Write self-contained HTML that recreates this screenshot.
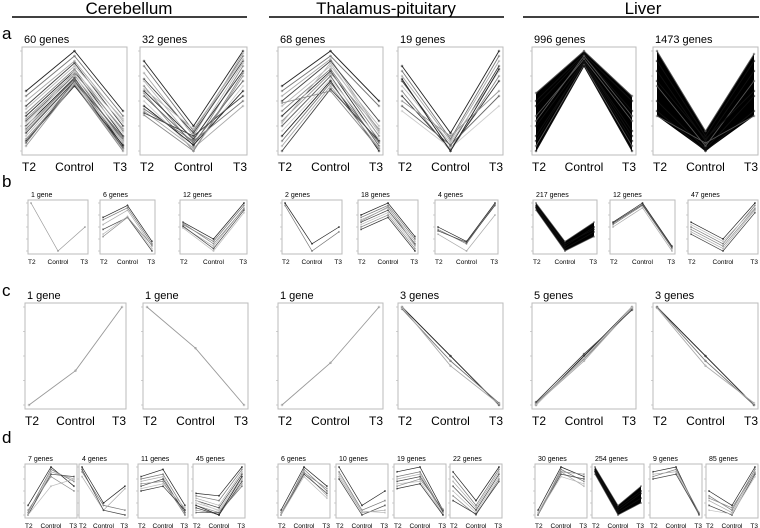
<!DOCTYPE html>
<html><head><meta charset="utf-8"><style>
body{margin:0;background:#fff}
svg{display:block;font-family:"Liberation Sans",sans-serif}
</style></head><body>
<svg id="fig" width="760" height="528" viewBox="0 0 760 528" xmlns="http://www.w3.org/2000/svg">
<g><text x="129" y="14" font-size="17" text-anchor="middle">Cerebellum</text><line x1="12" y1="17" x2="247" y2="17" stroke="#000" stroke-width="1.5"/></g>
<g><text x="386" y="14" font-size="17" text-anchor="middle">Thalamus-pituitary</text><line x1="269" y1="17" x2="504" y2="17" stroke="#000" stroke-width="1.5"/></g>
<g><text x="643" y="14" font-size="17" text-anchor="middle">Liver</text><line x1="523" y1="17" x2="759" y2="17" stroke="#000" stroke-width="1.5"/></g>
<text x="2" y="39" font-size="17">a</text>
<text x="2" y="187" font-size="17">b</text>
<text x="2" y="296" font-size="17">c</text>
<text x="2" y="443" font-size="17">d</text>
</svg>
<script>
const categories = ["T2","Control","T3"];
const a1 = [[0.6,1,0.4],[0.55,0.95,0.35],[0.5,0.9,0.3],[0.45,0.88,0.25],[0.42,0.85,0.32],[0.38,0.82,0.2],[0.35,0.8,0.15],[0.32,0.78,0.22],[0.3,0.76,0.1],[0.28,0.75,0.18],[0.25,0.73,0.05],[0.22,0.72,0.12],[0.2,0.7,0.08],[0.18,0.7,0.03],[0.15,0.68,0.1],[0.12,0.66,0.0],[0.1,0.65,0.06],[0.05,0.67,0.02],[0.08,0.7,0.14],[0.24,0.8,0.28]];
const a2 = [[0.9,0.25,1],[0.85,0.2,0.95],[0.78,0.15,0.98],[0.72,0.18,0.9],[0.7,0.1,0.88],[0.65,0.05,0.85],[0.6,0.12,0.8],[0.58,0.0,0.75],[0.55,0.08,0.7],[0.5,0.02,0.65],[0.45,0.06,0.6],[0.42,0.1,0.5],[0.4,0.03,0.45],[0.38,0.15,0.55],[0.62,0.22,0.92],[0.36,0.0,0.78]];
const a3 = [[0.65,1,0.5],[0.6,0.95,0.45],[0.55,0.92,0.2],[0.5,0.9,0.3],[0.45,0.85,0.25],[0.4,0.82,0.15],[0.35,0.8,0.1],[0.3,0.78,0.22],[0.25,0.75,0.05],[0.2,0.72,0.12],[0.15,0.7,0.0],[0.1,0.68,0.08],[0.05,0.65,0.03],[0.0,0.62,0.1],[0.28,0.88,0.18],[0.48,0.6,0.02]];
const a4 = [[0.85,0.18,1],[0.8,0.12,0.95],[0.75,0.1,0.9],[0.7,0.05,0.85],[0.65,0.08,0.8],[0.6,0.0,0.75],[0.55,0.02,0.7],[0.5,0.15,0.6],[0.45,0.06,0.55],[0.4,0.03,0.45],[0.72,0.0,0.82]];
const a5 = [[0.58,1,0.55],[0.5,0.97,0.5],[0.45,0.95,0.4],[0.35,0.92,0.3],[0.25,0.9,0.2],[0.15,0.88,0.1],[0.05,0.86,0.05],[0.0,0.85,0.0],[0.1,0.9,0.15],[0.3,0.95,0.35]];
const a6 = [[1,0.2,0.97],[0.9,0.15,0.9],[0.8,0.1,0.8],[0.65,0.05,0.7],[0.5,0.02,0.55],[0.4,0.0,0.4],[0.35,0.08,0.35],[0.7,0.12,0.6]];
const b1 = [[1,0,0.5]];
const b2 = [[0.7,0.95,0.2],[0.65,0.9,0.15],[0.55,0.85,0.1],[0.45,0.7,0.0],[0.35,0.72,0.05],[0.3,0.7,0.12]];
const b3 = [[0.6,0.25,1],[0.55,0.2,0.95],[0.5,0.1,0.9],[0.52,0.05,0.85],[0.48,0.0,0.8],[0.58,0.15,0.88]];
const b4 = [[1,0.15,0.5],[0.95,0.0,0.4]];
const b5 = [[0.75,1,0.3],[0.7,0.95,0.25],[0.65,0.9,0.2],[0.6,0.85,0.15],[0.55,0.8,0.1],[0.5,0.75,0.05],[0.45,0.7,0.0],[0.62,0.92,0.12]];
const b6 = [[0.5,0.2,1],[0.45,0.15,0.98],[0.35,0.0,0.75],[0.42,0.18,0.95]];
const b7 = [[1,0.2,0.6],[0.95,0.1,0.5],[0.9,0.05,0.4],[0.85,0.0,0.3],[0.92,0.15,0.45]];
const b8 = [[0.6,1,0.1],[0.55,0.95,0.05],[0.5,0.9,0.0],[0.58,0.97,0.08]];
const b9 = [[0.6,0.25,1],[0.5,0.15,0.95],[0.4,0.05,0.85],[0.35,0.0,0.8],[0.55,0.2,0.9],[0.45,0.1,0.88]];
const c1 = [[0,0.35,1]];
const c2 = [[1,0.58,0]];
const c3 = [[0,0.43,1]];
const c4 = [[1,0.5,0],[0.98,0.45,0.02],[1,0.4,0.01]];
const c5 = [[0,0.5,1],[0.02,0.47,0.98],[0.01,0.45,0.99],[0.03,0.52,0.97],[0,0.48,1]];
const c6 = [[1,0.5,0],[1,0.45,0.0],[0.99,0.4,0.02]];
const d1 = [[0.2,1,0.6],[0.05,0.95,0.7],[0,0.9,0.75],[0,0.85,0.8],[0,0.6,0.75],[0.1,0.8,0.5]];
const d2 = [[1,0.25,0.6],[0.9,0.2,0.1],[0.8,0.1,0.55],[0.95,0.1,0.0]];
const d3 = [[0.8,0.95,0.2],[0.75,0.85,0.1],[0.7,0.8,0.0],[0.6,0.75,0.05],[0.55,0.65,0.15],[0.65,0.7,0.0],[0.5,0.6,0.1]];
const d4 = [[0.45,0.4,1],[0.4,0.3,0.95],[0.35,0.2,0.9],[0.3,0.15,0.85],[0.25,0.1,0.8],[0.2,0.05,0.75],[0.15,0.0,0.7],[0.1,0.02,0.65],[0.05,0.05,0.6],[0.3,0.08,0.75],[0.2,0.0,0.8]];
const d5 = [[0.1,1,0.6],[0,0.95,0.5],[0,0.9,0.4],[0,0.85,0.45],[0,0.8,0.35],[0.05,0.88,0.55]];
const d6 = [[1,0.2,0.5],[0.9,0.1,0.3],[0.8,0.05,0.1],[0.75,0.0,0.2],[0.85,0.08,0.05]];
const d7 = [[0.9,1,0.1],[0.8,0.9,0.05],[0.75,0.85,0.0],[0.7,0.8,0.08],[0.65,0.7,0.02],[0.6,0.75,0.12],[0.55,0.65,0.0]];
const d8 = [[0.9,0.3,1],[0.8,0.2,0.95],[0.7,0.15,0.9],[0.6,0.1,0.85],[0.5,0.05,0.8],[0.4,0.0,0.75],[0.3,0.02,0.7]];
const d9 = [[0.1,1,0.8],[0,0.95,0.7],[0.05,0.9,0.6],[0,0.85,0.75],[0.02,0.8,0.65],[0,0.9,0.85]];
const d10 = [[1,0.2,0.6],[0.95,0.1,0.45],[0.9,0.05,0.35],[0.85,0.0,0.25],[0.92,0.15,0.5]];
const d11 = [[0.9,1,0.0],[0.8,0.95,0.05],[0.85,0.9,0.0],[0.75,0.85,0.02]];
const d12 = [[0.5,0.2,1],[0.4,0.1,0.95],[0.3,0.05,0.9],[0.2,0.0,0.85],[0.1,0.02,0.8],[0.35,0.15,0.88]];
const titlesA = ["60 genes","32 genes","68 genes","19 genes","996 genes","1473 genes"];
const titlesB = ["1 gene","6 genes","12 genes","2 genes","18 genes","4 genes","217 genes","12 genes","47 genes"];
const titlesC = ["1 gene","1 gene","1 gene","3 genes","5 genes","3 genes"];
const titlesD = ["7 genes","4 genes","11 genes","45 genes","6 genes","10 genes","19 genes","22 genes","30 genes","254 genes","9 genes","85 genes"];

const NS="http://www.w3.org/2000/svg";
const svg=document.getElementById('fig');
const grays=["#222","#777","#aaa","#444","#bbb","#888","#333","#999","#666","#ccc"];
function mk(tag,attrs,parent){const e=document.createElementNS(NS,tag);for(const k in attrs)e.setAttribute(k,attrs[k]);parent.appendChild(e);return e;}
function panel(name,x0,x1,y0,y1,title,data,big,dense){
  const g=mk('g',{},svg);
  
  
  const box=mk('rect',{x:x0,y:y0,width:x1-x0,height:y1-y0,fill:'none',stroke:'#bbb','stroke-width':1},g);
  
  
  const pad=big?4:3;
  const xs=i=>x0+pad+i*(x1-x0-2*pad)/(categories.length-1);
  const ys=v=>y1-pad-v*(y1-y0-2*pad);
  for(let t=0;t<5;t++){const yy=y1-pad-t*(y1-y0-2*pad)/4;mk('line',{x1:x0-2,x2:x0,y1:yy,y2:yy,stroke:'#bbb','stroke-width':0.7},g);}
  if(dense){
    const mx=categories.map((c,i)=>Math.max(...data.map(r=>r[i])));
    const mn=categories.map((c,i)=>Math.min(...data.map(r=>r[i])));
    const pts=mx.map((v,i)=>xs(i)+','+ys(v)).concat(mn.map((v,i)=>[i,v]).reverse().map(p=>xs(p[0])+','+ys(p[1])));
    const poly=mk('polygon',{points:pts.join(' '),fill:'#000'},g);
    
    
  }
  data.forEach((r,j)=>{
    const col=dense?(j%3==0?'#555':'#111'):(data.length==1?'#999':grays[j%grays.length]);
    const pl=mk('polyline',{points:r.map((v,i)=>xs(i)+','+ys(v)).join(' '),fill:'none',stroke:col,'stroke-width':big?0.9:0.7},g);
    
    
    r.forEach((v,i)=>{const c=mk('circle',{cx:xs(i),cy:ys(v),r:big?1:0.7,fill:'none',stroke:col,'stroke-width':0.5},g);
      
      });
  });
  const ts=big?11:7;
  const tt=mk('text',{x:x0+(big?2:3),y:y0-(big?4:3),'font-size':ts},g);tt.textContent=title;
  
  
  const ls=big?12:6.5, ly=big?(y1+16):(y1+10);
  categories.forEach((c,i)=>{
    const anchor=i==0?'start':(i==2?'end':'middle');
    const xx=i==0?x0:(i==2?x1:(x0+x1)/2);
    const t=mk('text',{x:xx,y:ly,'font-size':ls,'text-anchor':anchor},g);t.textContent=c;
    
    
  });
}
const rowAx=[[22,127],[140,247],[278,383],[398,503],[532,636],[653,758]];
const rowCx=[[25,126],[143,248],[278,383],[398,503],[532,636],[653,758]];
const rowBx=[[28,88],[100,155],[180,247],[282,342],[358,418],[435,498],[533,597],[610,675],[688,758]];
const rowDx=[[25,77],[79,128],[138,188],[193,245],[278,330],[336,388],[394,446],[450,502],[535,587],[592,644],[650,702],[706,758]];
const A=[a1,a2,a3,a4,a5,a6], B=[b1,b2,b3,b4,b5,b6,b7,b8,b9], C=[c1,c2,c3,c4,c5,c6], D=[d1,d2,d3,d4,d5,d6,d7,d8,d9,d10,d11,d12];
const denseA=[false,false,false,false,true,true], denseB=[0,0,0,0,0,0,1,0,0], denseD=[0,0,0,0,0,0,0,0,0,1,0,0];
A.forEach((d,i)=>panel('row-a-panel-'+(i+1),rowAx[i][0],rowAx[i][1],47,155,titlesA[i],d,true,denseA[i]));
B.forEach((d,i)=>panel('row-b-panel-'+(i+1),rowBx[i][0],rowBx[i][1],200,254,titlesB[i],d,false,!!denseB[i]));
C.forEach((d,i)=>panel('row-c-panel-'+(i+1),rowCx[i][0],rowCx[i][1],303,409,titlesC[i],d,true,false));
D.forEach((d,i)=>panel('row-d-panel-'+(i+1),rowDx[i][0],rowDx[i][1],464,518,titlesD[i],d,false,!!denseD[i]));
</script>
</body></html>
